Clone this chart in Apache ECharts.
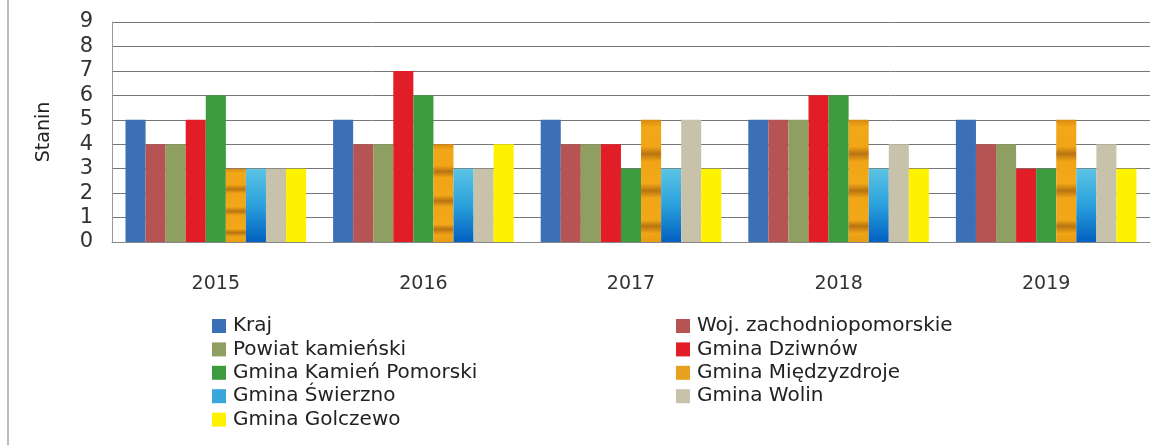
<!DOCTYPE html>
<html>
<head>
<meta charset="utf-8">
<script src="https://cdn.jsdelivr.net/npm/echarts@6/dist/echarts.min.js"></script>
<style>
  html, body { margin: 0; padding: 0; background: #fff; }
  #chart { width: 1159px; height: 445px; }
</style>
</head>
<body>
<div id="chart"></div>
<script>
// lata
var years = ['2015', '2016', '2017', '2018', '2019'];
var yTicks = [0, 1, 2, 3, 4, 5, 6, 7, 8, 9];

// wartości stanin dla każdej jednostki
var kraj          = [5, 5, 5, 5, 5];
var woj           = [4, 4, 4, 5, 4];
var powiat        = [4, 4, 4, 5, 4];
var dziwnow       = [5, 7, 4, 6, 3];
var kamien        = [6, 6, 3, 6, 3];
var miedzyzdroje  = [3, 4, 5, 5, 5];
var swierzno      = [3, 3, 3, 3, 3];
var wolin         = [3, 3, 5, 4, 4];
var golczewo      = [3, 4, 3, 3, 3];

var names = ['Kraj', 'Woj. zachodniopomorskie', 'Powiat kamieński', 'Gmina Dziwnów',
             'Gmina Kamień Pomorski', 'Gmina Międzyzdroje', 'Gmina Świerzno',
             'Gmina Wolin', 'Gmina Golczewo'];
var values = [kraj, woj, powiat, dziwnow, kamien, miedzyzdroje, swierzno, wolin, golczewo];

var orangeStripes = new echarts.graphic.LinearGradient(0, 0, 0, 1, [
    {offset: 0, color: '#d88a10'}, {offset: 0.06, color: '#f2a818'},
    {offset: 0.22, color: '#f0a416'}, {offset: 0.28, color: '#b87410'},
    {offset: 0.34, color: '#f0a416'}, {offset: 0.52, color: '#f2a818'},
    {offset: 0.58, color: '#b87410'}, {offset: 0.64, color: '#f0a416'},
    {offset: 0.82, color: '#f2a818'}, {offset: 0.87, color: '#b87410'},
    {offset: 0.93, color: '#f0a416'}, {offset: 1, color: '#e89c14'}
]);
var blueGrad = new echarts.graphic.LinearGradient(0, 0, 0, 1, [
    {offset: 0, color: '#5cc4e4'}, {offset: 0.5, color: '#2aa0dc'},
    {offset: 1, color: '#0260c0'}
]);
var colors = ['#3b6fb6', '#b55452', '#8f9f62', '#e11d27', '#3c9b3c',
              orangeStripes, blueGrad, '#c9c2ab', '#fff200'];
var legendColors = ['#3b6fb6', '#b55452', '#8f9f62', '#e11d27', '#3c9b3c',
                    '#e8a020', '#3aa6dc', '#c9c2ab', '#fff200'];

var series = names.map(function (n, i) {
    return {
        name: n,
        type: 'bar',
        data: values[i],
        barGap: '0%',
        barCategoryGap: '13%',
        itemStyle: {color: colors[i]},
        emphasis: {disabled: true}
    };
});

var FONT = 'DejaVu Sans';
function mkLegend(idx, left) {
    return {
        orient: 'vertical',
        left: left,
        top: 311,
        height: 130,
        itemWidth: 14,
        itemHeight: 14,
        itemGap: 3.4,
        icon: 'rect',
        textStyle: {fontFamily: FONT, fontSize: 20, color: '#222', padding: [0, 0, 0, 2]},
        data: idx.map(function (k) {
            return {name: names[k], itemStyle: {color: legendColors[k]}};
        })
    };
}

var chart = echarts.init(document.getElementById('chart'));
chart.setOption({
    animation: false,
    backgroundColor: '#fff',
    grid: {left: 112, right: 9, top: 22, bottom: 203, containLabel: false},
    legend: [mkLegend([0, 2, 4, 6, 8], 207), mkLegend([1, 3, 5, 7], 671)],
    xAxis: {
        type: 'category',
        data: years,
        axisTick: {show: false},
        axisLine: {lineStyle: {color: '#888'}},
        axisLabel: {margin: 33, fontFamily: FONT, fontSize: 19, color: '#333'}
    },
    yAxis: {
        type: 'value',
        min: yTicks[0],
        max: yTicks[yTicks.length - 1],
        interval: 1,
        name: 'Stanin',
        nameLocation: 'middle',
        nameGap: 58,
        nameTextStyle: {fontFamily: FONT, fontSize: 19, color: '#222'},
        axisLine: {show: true, lineStyle: {color: '#999'}},
        axisTick: {show: false},
        axisLabel: {margin: 19, fontFamily: FONT, fontSize: 21, color: '#333'},
        splitLine: {lineStyle: {color: '#777', width: 1}}
    },
    graphic: [{
        type: 'line',
        shape: {x1: 8, y1: 0, x2: 8, y2: 445},
        style: {stroke: '#bbb', lineWidth: 2}
    }],
    series: series
});
</script>
</body>
</html>
